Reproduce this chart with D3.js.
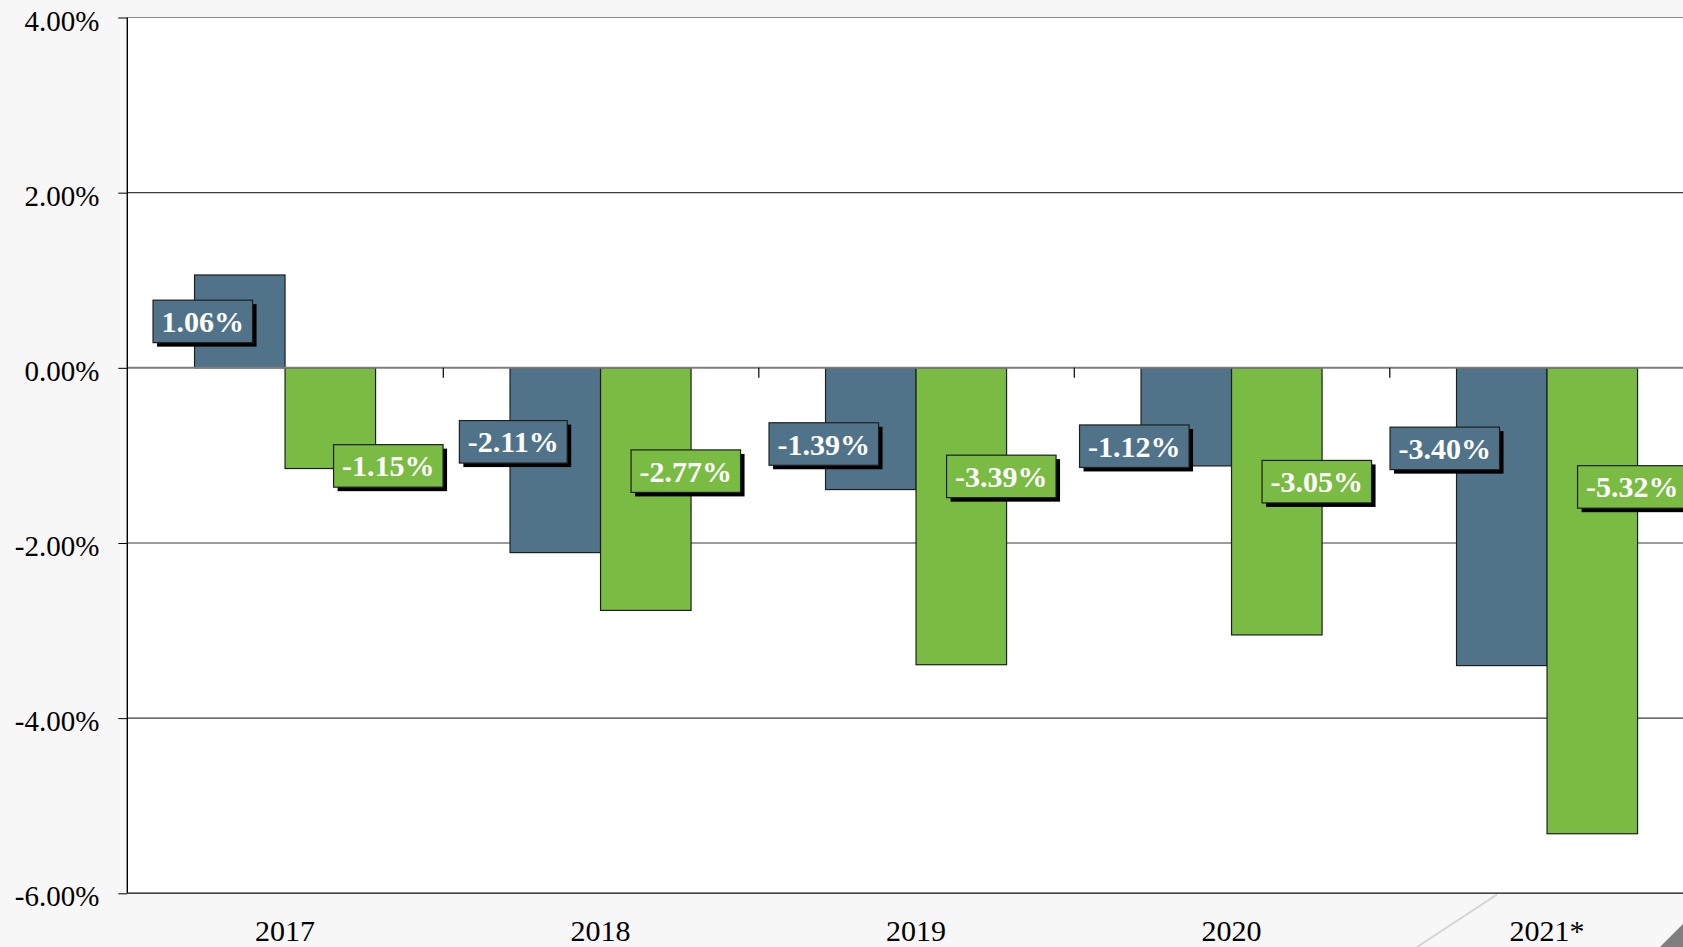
<!DOCTYPE html>
<html>
<head>
<meta charset="utf-8">
<script src="https://cdn.jsdelivr.net/npm/d3@7"></script>
<style>
  html, body { margin: 0; padding: 0; background: #f7f7f7; overflow: hidden; }
  svg { display: block; }
</style>
</head>
<body>
<svg id="chart" width="1683" height="947"></svg>
<script>
// ---- data ----
const categories = ["2017", "2018", "2019", "2020", "2021*"];
const seriesNames = ["A", "B"];
const seriesA = [1.06, -2.11, -1.39, -1.12, -3.40];
const seriesB = [-1.15, -2.77, -3.39, -3.05, -5.32];
const yTicks = [4, 2, 0, -2, -4, -6];
const colors = ["#51738a", "#7abb43"];

// ---- layout ----
const W = 1683, H = 947;
const plot = { left: 127.3, top: 17.5, right: 1704.8, bottom: 893.3 };

const svg = d3.select("#chart");
svg.append("rect").attr("width", W).attr("height", H).attr("fill", "#f7f7f7");

const x0 = d3.scaleBand().domain(categories).range([plot.left, plot.right]).padding(0);
const bw = x0.bandwidth();
const x1 = d3.scaleBand().domain(seriesNames).range([bw * 0.2131, bw * 0.7869]).padding(0);
const y = d3.scaleLinear().domain([-6, 4]).range([plot.bottom, plot.top]);

// plot background
svg.append("rect")
  .attr("x", plot.left).attr("y", plot.top)
  .attr("width", W - plot.left).attr("height", plot.bottom - plot.top)
  .attr("fill", "#ffffff");

// decorative background marks
svg.append("line").attr("x1", 1497).attr("y1", 894.5).attr("x2", 1417).attr("y2", 947)
  .attr("stroke", "#d4d4d4").attr("stroke-width", 2);
svg.append("path").attr("d", "M1660,947 L1683,924 L1683,947 Z").attr("fill", "#7f7f7f");

// y axis ticks + labels
const yAxis = d3.axisLeft(y).tickValues(yTicks).tickSize(9)
  .tickFormat(d => d.toFixed(2) + "%");
const gy = svg.append("g").attr("transform", `translate(${plot.left},0)`).call(yAxis);
gy.select(".domain").remove();
gy.selectAll(".tick line").attr("stroke", "#000");
gy.selectAll(".tick text")
  .attr("x", -28).attr("dy", null).attr("y", 12.5)
  .attr("font-family", "'Liberation Serif', 'Times New Roman', serif")
  .attr("font-size", 29).attr("fill", "#000").attr("text-anchor", "end");

// gridlines
svg.append("g").selectAll("line").data(yTicks.filter(d => d !== 0)).join("line")
  .attr("x1", plot.left).attr("x2", W)
  .attr("y1", d => y(d)).attr("y2", d => y(d))
  .attr("stroke", d => d === 4 ? "#8a8a8a" : "#3a3a3a").attr("stroke-width", 1.2);

// bars
const rows = categories.map((c, i) => ({ cat: c, i, vals: [seriesA[i], seriesB[i]] }));
const gBars = svg.append("g");
rows.forEach(r => {
  r.vals.forEach((v, s) => {
    gBars.append("rect")
      .attr("x", x0(r.cat) + x1(seriesNames[s]))
      .attr("y", Math.min(y(v), y(0)))
      .attr("width", x1.bandwidth())
      .attr("height", Math.abs(y(v) - y(0)))
      .attr("fill", colors[s])
      .attr("stroke", "#1e1e1e").attr("stroke-width", 1.2);
  });
});

// zero line
svg.append("line").attr("x1", plot.left).attr("x2", W)
  .attr("y1", y(0)).attr("y2", y(0))
  .attr("stroke", "#7d7d7d").attr("stroke-width", 2);

// category ticks at boundaries
svg.append("g").selectAll("line").data(categories.slice(1)).join("line")
  .attr("x1", d => x0(d) + 0.5).attr("x2", d => x0(d) + 0.5)
  .attr("y1", y(0)).attr("y2", y(0) + 10)
  .attr("stroke", "#000").attr("stroke-width", 1.2);

// axis lines
svg.append("line").attr("x1", plot.left).attr("x2", plot.left)
  .attr("y1", plot.top).attr("y2", plot.bottom).attr("stroke", "#000").attr("stroke-width", 1.4);
svg.append("line").attr("x1", plot.left).attr("x2", W)
  .attr("y1", plot.bottom).attr("y2", plot.bottom).attr("stroke", "#444").attr("stroke-width", 1.4);

// x labels
svg.append("g").selectAll("text").data(categories).join("text")
  .attr("x", d => x0(d) + bw / 2).attr("y", 941)
  .attr("text-anchor", "middle")
  .attr("font-family", "'Liberation Serif', 'Times New Roman', serif")
  .attr("font-size", 30).attr("fill", "#000")
  .text(d => d);

// data labels
const gLab = svg.append("g");
rows.forEach(r => {
  r.vals.forEach((v, s) => {
    const dx = s === 0 ? (-37 - 5 * r.i) : (r.i === 0 ? 58 : 40);
    const cx = x0(r.cat) + x1(seriesNames[s]) + x1.bandwidth() / 2 + dx;
    let lv;
    if (v > 0) lv = v / 2;
    else lv = s === 0 ? (-0.82 - 0.025 * r.i) : (-1.12 - 0.06 * r.i);
    const cy = y(lv);
    const g = gLab.append("g");
    const t = g.append("text")
      .attr("x", cx).attr("y", cy + 10.5)
      .attr("text-anchor", "middle")
      .attr("font-family", "'Liberation Serif', 'Times New Roman', serif")
      .attr("font-weight", "bold")
      .attr("font-size", 30).attr("fill", "#ffffff")
      .text(v.toFixed(2) + "%");
    const tw = t.node().getComputedTextLength();
    const bwid = tw + 17, bh = 42.5;
    g.insert("rect", "text")
      .attr("x", cx - bwid / 2 + 4).attr("y", cy - bh / 2 + 4)
      .attr("width", bwid).attr("height", bh).attr("fill", "#000");
    g.insert("rect", "text")
      .attr("x", cx - bwid / 2).attr("y", cy - bh / 2)
      .attr("width", bwid).attr("height", bh)
      .attr("fill", colors[s]).attr("stroke", "#1e1e1e").attr("stroke-width", 1.2);
  });
});
</script>
</body>
</html>
